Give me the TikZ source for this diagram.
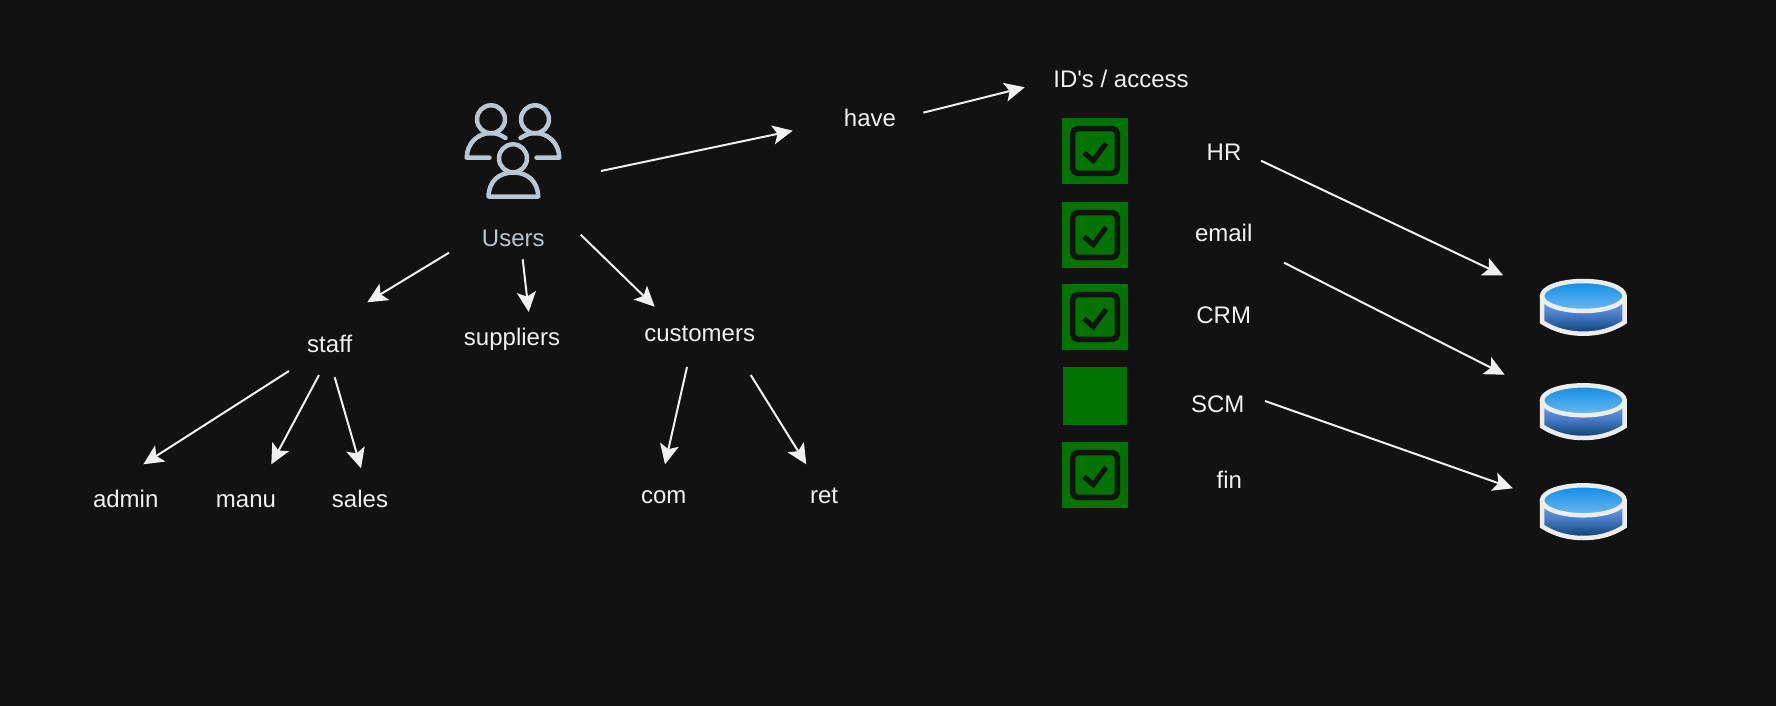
\documentclass[tikz,border=0pt]{standalone}
\usepackage{fontspec}
\setmainfont{Liberation Sans}
\usetikzlibrary{arrows.meta}
\definecolor{bgc}{HTML}{121212}
\definecolor{fgc}{HTML}{F0F0F0}
\definecolor{usersc}{HTML}{B9C6D3}
\definecolor{greenc}{HTML}{007300}
\definecolor{dbline}{HTML}{EDEDED}
\definecolor{dbtopA}{HTML}{0C8EE8}
\definecolor{dbtopB}{HTML}{6FB8EE}
\definecolor{dbsideA}{HTML}{86ABE0}
\definecolor{dbsideM}{HTML}{4A7CC8}
\definecolor{dbsideB}{HTML}{06406F}
\tikzset{
  lbl/.style={anchor=base,inner sep=0pt,yshift=-1pt,text=fgc,font=\fontsize{24}{28}\selectfont},
  userslbl/.style={lbl,text=usersc},
  conn/.style={draw=fgc,line width=2pt,-{Stealth[length=20pt,width=19pt,inset=4.5pt]}},
  usericon/.style={draw=usersc,line width=4.5pt,line cap=round,line join=round},
  chkbg/.style={fill=greenc,draw=none,inner sep=0pt,minimum width=66pt,minimum height=66pt},
  chkbox/.style={draw=bgc,line width=5.5pt,rounded corners=5pt},
  chkmark/.style={draw=bgc,line width=5pt},
  dbstroke/.style={draw=dbline,line width=4.5pt},
}
\begin{document}
\begin{tikzpicture}[x=1pt,y=-1pt]
\fill[bgc] (0,0) rectangle (1776,706);
\useasboundingbox (0,0) rectangle (1776,706);

% users icon
\draw[usericon] (491,119.3) circle[radius=14];
\draw[usericon] (535,119.3) circle[radius=14];
\draw[usericon] (513,158.3) circle[radius=14];
\draw[usericon] (488.5,196.5) .. controls (489,181) and (499,172.5) .. (513.3,172.5)
   .. controls (527.5,172.5) and (537.5,181) .. (538.3,196.5) -- cycle;
\draw[usericon] (489.5,157.7) -- (466.7,157.7) .. controls (467,143) and (478,133) .. (491,133)
   .. controls (496,133) and (501,135) .. (505.5,138);
\draw[usericon] (536.5,157.7) -- (559.3,157.7) .. controls (559,143) and (548,133) .. (535,133)
   .. controls (530,133) and (525,135) .. (520.5,138);

% text nodes
\node[userslbl] (users) at (513.3,245.3) {Users};
\node[lbl] (staff) at (329.7,351) {staff};
\node[lbl] (suppliers) at (512,344.7) {suppliers};
\node[lbl] (customers) at (699.7,340.7) {customers};
\node[lbl] (admin) at (125.7,506.7) {admin};
\node[lbl] (manu) at (246,506.7) {manu};
\node[lbl] (sales) at (360,506.7) {sales};
\node[lbl] (com) at (663.7,502.7) {com};
\node[lbl] (ret) at (824,502.7) {ret};
\node[lbl] (have) at (870,125) {have};
\node[lbl] (ids) at (1121,86.7) {ID\textquotesingle s / access};
\node[lbl] (hr) at (1224,159) {HR};
\node[lbl] (email) at (1223.7,240.7) {email};
\node[lbl] (crm) at (1223.7,322.7) {CRM};
\node[lbl] (scm) at (1217.7,411) {SCM};
\node[lbl] (fin) at (1229.3,487) {fin};

% check boxes
\foreach \nm/\cy in {chkA/151,chkB/235,chkC/317,chkE/475}{
  \node[chkbg] (\nm) at (1095,\cy) {};
  \draw[chkbox] (1072.7,\cy-22.3) rectangle (1117.3,\cy+22.3);
  \draw[chkmark] (1084,\cy+1.7) -- (1093.3,\cy+9.7) -- (1106,\cy-7.7);
}
\node[chkbg,minimum width=64pt,minimum height=58pt] (chkD) at (1095,396) {};

% databases
\foreach \nm/\T in {dbA/279,dbB/383.3,dbC/483.3}{
  \coordinate (\nm) at (1583.3,\T+28);
  \shade[top color=dbsideA,bottom color=dbsideB,middle color=dbsideM]
    (1542,\T+16) -- (1542,\T+43) .. controls (1556,\T+52) and (1570,\T+54.7) .. (1583.3,\T+54.7)
    .. controls (1597,\T+54.7) and (1611,\T+52) .. (1624.7,\T+43) -- (1624.7,\T+16) -- cycle;
  \shade[top color=dbtopA,bottom color=dbtopB]
    (1583.3,\T+17) ellipse[x radius=41.3,y radius=15];
  \draw[dbstroke] (1542,\T+16) -- (1542,\T+43) .. controls (1556,\T+52) and (1570,\T+54.7) .. (1583.3,\T+54.7)
    .. controls (1597,\T+54.7) and (1611,\T+52) .. (1624.7,\T+43) -- (1624.7,\T+16);
  \draw[dbstroke] (1583.3,\T+17) ellipse[x radius=41.3,y radius=15];
}

% connector ends
\coordinate (a1) at (449,252.7);     \coordinate (b1) at (367.3,302.3);
\coordinate (a2) at (522.7,259.3);   \coordinate (b2) at (528.7,312);
\coordinate (a3) at (580.7,234.7);   \coordinate (b3) at (654.7,306.7);
\coordinate (a4) at (289,371);       \coordinate (b4) at (143.3,464.3);
\coordinate (a5) at (319,375);       \coordinate (b5) at (271.3,464.3);
\coordinate (a6) at (334.7,377.3);   \coordinate (b6) at (361,468.3);
\coordinate (a7) at (687,367);       \coordinate (b7) at (665,464.3);
\coordinate (a8) at (750.7,375);     \coordinate (b8) at (806.3,464.3);
\coordinate (a9) at (601,171);       \coordinate (b9) at (792.7,130.7);
\coordinate (a10) at (923.3,112.7);  \coordinate (b10) at (1024.7,87.3);
\coordinate (a11) at (1261,160.7);   \coordinate (b11) at (1503,275.3);
\coordinate (a12) at (1284,262.7);   \coordinate (b12) at (1504.7,374.7);
\coordinate (a13) at (1265,401);     \coordinate (b13) at (1513,488.3);
\foreach \i in {1,...,13}{ \draw[conn] (a\i) -- (b\i); }
\end{tikzpicture}
\end{document}
